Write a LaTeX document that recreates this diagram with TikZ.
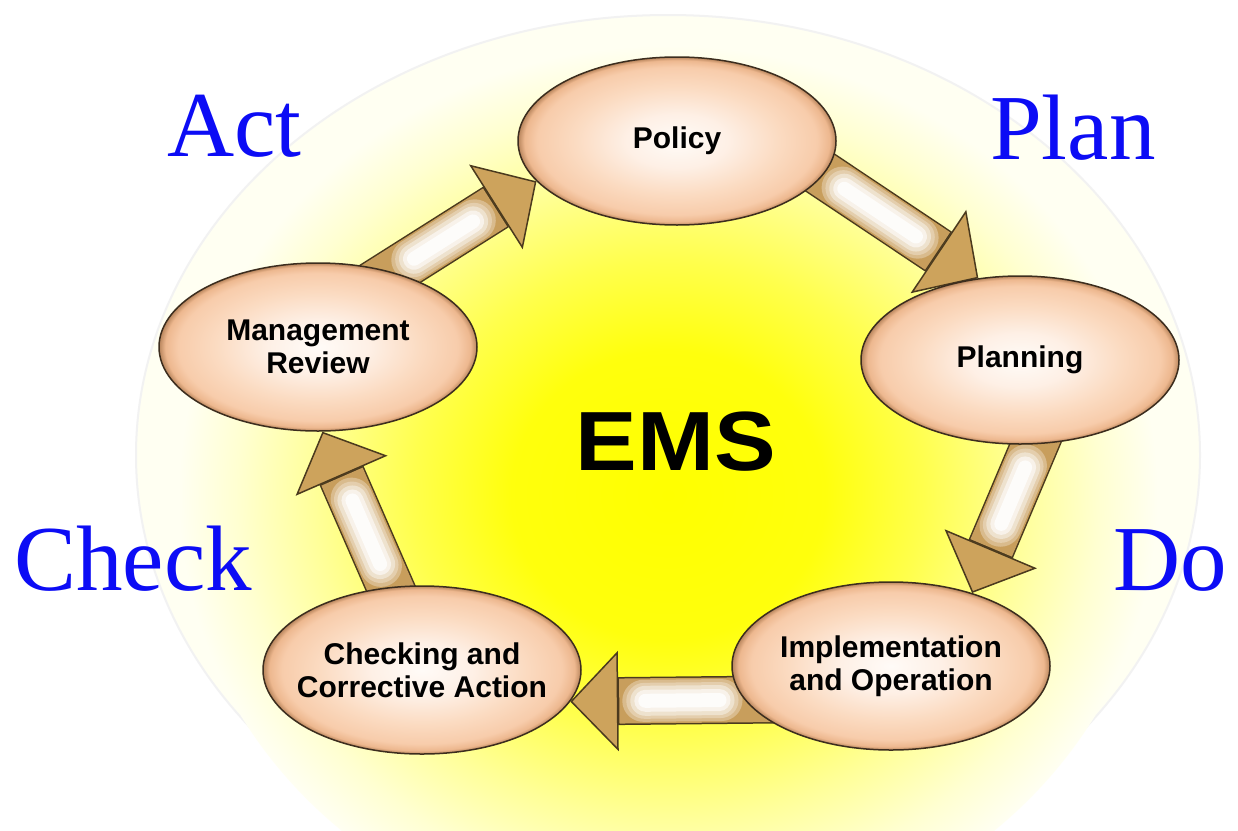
\documentclass[tikz,border=0pt]{standalone}
\usepackage{fontspec}
\usepackage{graphicx}
\newfontfamily\lsans{Liberation Sans}
\newfontfamily\lserif{Liberation Serif}
\usetikzlibrary{shapes.geometric,arrows.meta}
\definecolor{arrline}{RGB}{75,58,30}
\definecolor{arrhead}{RGB}{205,163,92}
\definecolor{arrtan}{RGB}{200,158,92}
\definecolor{ellline}{RGB}{60,45,30}
\definecolor{pdcablue}{RGB}{12,12,245}
\definecolor{circfill}{rgb}{1,1,0.95}
\pgfdeclareradialshading{peach}{\pgfpoint{0bp}{0bp}}{rgb(0bp)=(1,0.985,0.97); rgb(8bp)=(0.995,0.94,0.9); rgb(16bp)=(0.985,0.86,0.76); rgb(22bp)=(0.97,0.8,0.67); rgb(24bp)=(0.93,0.72,0.56); rgb(25bp)=(0.72,0.52,0.36); rgb(50bp)=(0.72,0.52,0.36)}
\pgfdeclareradialshading{glow}{\pgfpoint{0bp}{0bp}}{rgb(0bp)=(1,1,0); rgb(8bp)=(1,1,0.05); rgb(13bp)=(1,1,0.3); rgb(18bp)=(1,1,0.6); rgb(22bp)=(1,1,0.82); rgb(25bp)=(1,1,0.95); rgb(50bp)=(1,1,0.95)}
\pgfdeclarelayer{bg}
\pgfdeclarelayer{arr}
\pgfsetlayers{bg,arr,main}
\tikzset{
  stage/.style={ellipse, shade, shading=peach, draw=ellline, line width=1.5pt,
    minimum width=318pt, minimum height=168pt, inner xsep=-14pt, inner ysep=0pt,
    align=center, font=\lsans\bfseries\fontsize{30}{33}\selectfont},
  pdca/.style={anchor=base west, inner sep=0pt, text=pdcablue,
    font=\lserif\fontsize{93}{100}\selectfont},
  flow/.style={line width=48pt, draw=arrline, shorten <=-30pt,
    -{Triangle[width=100pt,length=48pt,line width=1.5pt,fill=arrhead]},
    postaction={draw=arrtan, -, line cap=butt, line width=45pt, shorten <=-30pt, shorten >=49pt},
    postaction={draw=white!30!arrtan, -, line cap=round, line width=42pt, shorten <=23pt, shorten >=73pt},
    postaction={draw=white!50!arrtan, -, line cap=round, line width=36pt, shorten <=24pt, shorten >=74pt},
    postaction={draw=white!70!arrtan, -, line cap=round, line width=30pt, shorten <=25pt, shorten >=75pt},
    postaction={draw=white!87!arrtan, -, line cap=round, line width=22pt, shorten <=25pt, shorten >=75pt},
    postaction={draw=white!97!arrtan, -, line cap=round, line width=14pt, shorten <=25pt, shorten >=75pt}}
}
\begin{document}
\begin{tikzpicture}[x=1pt,y=-1pt]
\begin{pgfonlayer}{bg}
\fill[white] (0,0) rectangle (1238,830);
\begin{scope}
\clip (0,0) rectangle (1238,830);
\fill[circfill, draw=black!5, line width=2pt] (668,455) ellipse [x radius=532, y radius=440];
\shade[shading=glow] (668,495) ellipse [x radius=490, y radius=450];
\end{scope}
\end{pgfonlayer}
\useasboundingbox (0,0) rectangle (1238,830);

\node[stage] (pol) at (677,141) {Policy};
\node[stage] (pla) at (1020,360) {Planning};
\node[stage] (imp) at (891,666) {Implementation\\and Operation};
\node[stage] (chk) at (422,670) {Checking and\\Corrective Action};
\node[stage] (mgt) at (318,347) {Management\\Review};

\node (ems) at (676,442) {\lsans\bfseries\fontsize{84}{90}\selectfont\scalebox{1.1}[1]{EMS}};

\node[pdca] (act) at (167,156) {Act};
\node[pdca] (plan) at (990,159) {Plan};
\node[pdca] (check) at (14,590) {Check};
\node[pdca] (do) at (1113,590) {Do};

\begin{pgfonlayer}{arr}
\draw[flow] (pol.-13) -- (pla.117);
\draw[flow] (pla.-80) -- (imp.42);
\draw[flow] (imp.-167) -- (chk.-12);
\draw[flow] (chk.111) -- (mgt.-87);
\draw[flow] (mgt.45) -- (pol.196);
\end{pgfonlayer}
\end{tikzpicture}
\end{document}
